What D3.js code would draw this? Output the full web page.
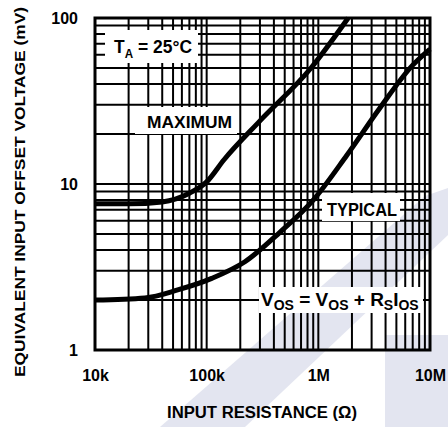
<!DOCTYPE html>
<html>
<head>
<meta charset="utf-8">
<script src="https://cdn.jsdelivr.net/npm/d3@7"></script>
<style>
  body { margin: 0; background: #fff; }
  svg text { font-family: "Liberation Sans Narrow", "Liberation Sans", Arial, sans-serif; font-weight: bold; fill: #000; }
</style>
</head>
<body>
<div id="chart"></div>
<script>
// values
var resistance = [1e4, 2e4, 4e4, 7e4, 1e5, 1.43e5, 3e5, 8.6e5, 1.85e6];
var maximum = [7.6, 7.6, 7.8, 8.8, 10.3, 14, 24, 50, 100];

var resistanceTyp = [1e4, 2.8e4, 5.5e4, 1.11e5, 2.2e5, 4.5e5, 9e5, 1.8e6, 3.56e6, 7e6, 1e7];
var typical = [2.0, 2.06, 2.3, 2.7, 3.4, 5.1, 8.0, 14.9, 28.7, 52, 65];

var xTicks = [1e4, 1e5, 1e6, 1e7];
var xTickLabels = ["10k", "100k", "1M", "10M"];
var yTicks = [1, 10, 100];
var yTickLabels = ["1", "10", "100"];

var width = 448, height = 427;
var margin = {left: 95, top: 18, right: 18, bottom: 77};

var svg = d3.select("#chart").append("svg")
  .attr("width", width)
  .attr("height", height);

// faint watermark in the background
var wm = svg.append("g").attr("fill", "#e3e5f0");
wm.append("path").attr("d", "M160,427 L245,427 L448,235 L448,188 L425,196 Z");
wm.append("path").attr("d", "M385,335 L448,335 L448,427 L385,427 Z");

var x = d3.scaleLog().domain([1e4, 1e7]).range([margin.left, width - margin.right]);
var y = d3.scaleLog().domain([1, 100]).range([height - margin.bottom, margin.top]);

// gridlines at 1..9 in every decade
var xGrid = [], yGrid = [];
for (var d = 1e4; d < 1e7; d *= 10) for (var k = 1; k <= 9; k++) xGrid.push(d * k);
for (var e = 1; e < 100; e *= 10) for (var k2 = 1; k2 <= 9; k2++) yGrid.push(e * k2);

var grid = svg.append("g").attr("stroke", "#000").attr("stroke-width", 2);
grid.selectAll(".vx").data(xGrid).enter().append("line")
  .attr("x1", function (d) { return x(d); }).attr("x2", function (d) { return x(d); })
  .attr("y1", y(100)).attr("y2", y(1));
grid.selectAll(".hy").data(yGrid).enter().append("line")
  .attr("y1", function (d) { return y(d); }).attr("y2", function (d) { return y(d); })
  .attr("x1", x(1e4)).attr("x2", x(1e7));

// white boxes behind the labels cut the grid
var boxes = [
  [105, 30, 93, 33],
  [135, 107, 102, 27],
  [322, 193, 78, 28],
  [259, 287, 164, 26]
];
svg.selectAll(".box").data(boxes).enter().append("rect")
  .attr("x", function (b) { return b[0]; }).attr("y", function (b) { return b[1]; })
  .attr("width", function (b) { return b[2]; }).attr("height", function (b) { return b[3]; })
  .attr("fill", "#fff");

// frame
svg.append("rect")
  .attr("x", x(1e4)).attr("y", y(100))
  .attr("width", x(1e7) - x(1e4)).attr("height", y(1) - y(100))
  .attr("fill", "none").attr("stroke", "#000").attr("stroke-width", 3);

// curves
var line = d3.line().curve(d3.curveMonotoneX);
svg.append("path")
  .datum(resistance.map(function (r, i) { return [x(r), y(maximum[i])]; }))
  .attr("d", line).attr("fill", "none").attr("stroke", "#000").attr("stroke-width", 5);
svg.append("path")
  .datum(resistanceTyp.map(function (r, i) { return [x(r), y(typical[i])]; }))
  .attr("d", line).attr("fill", "none").attr("stroke", "#000").attr("stroke-width", 5);

// axes
var xAxis = svg.append("g")
  .attr("transform", "translate(0," + y(1) + ")")
  .call(d3.axisBottom(x).tickValues(xTicks).tickSize(0).tickPadding(20)
    .tickFormat(function (d, i) { return xTickLabels[i]; }));
xAxis.select(".domain").remove();
xAxis.selectAll("text").style("font-size", "16px").attr("font-family", null);

var yAxis = svg.append("g")
  .attr("transform", "translate(" + x(1e4) + ",0)")
  .call(d3.axisLeft(y).tickValues(yTicks).tickSize(0).tickPadding(17)
    .tickFormat(function (d, i) { return yTickLabels[i]; }));
yAxis.select(".domain").remove();
yAxis.selectAll("text").style("font-size", "16px").attr("font-family", null);

// axis titles
svg.append("text")
  .attr("x", 262).attr("y", 418)
  .attr("text-anchor", "middle")
  .style("font-size", "16px")
  .attr("textLength", 190).attr("lengthAdjust", "spacingAndGlyphs")
  .text("INPUT RESISTANCE (\u03A9)");

svg.append("text")
  .attr("transform", "translate(25,192) rotate(-90)")
  .attr("text-anchor", "middle")
  .style("font-size", "15px")
  .attr("textLength", 370).attr("lengthAdjust", "spacingAndGlyphs")
  .text("EQUIVALENT INPUT OFFSET VOLTAGE (mV)");

// in-plot labels
var ta = svg.append("text").attr("x", 114).attr("y", 53).style("font-size", "18px")
  .attr("textLength", 78).attr("lengthAdjust", "spacingAndGlyphs");
ta.append("tspan").text("T");
ta.append("tspan").attr("dy", 5).style("font-size", "12px").text("A");
ta.append("tspan").attr("dy", -5).text(" = 25\u00B0C");

svg.append("text").attr("x", 147).attr("y", 128).style("font-size", "17px")
  .attr("textLength", 85).attr("lengthAdjust", "spacingAndGlyphs")
  .text("MAXIMUM");

svg.append("text").attr("x", 327).attr("y", 216).style("font-size", "18px")
  .attr("textLength", 70).attr("lengthAdjust", "spacingAndGlyphs")
  .text("TYPICAL");

var vos = svg.append("text").attr("x", 261).attr("y", 306).style("font-size", "19px");
vos.append("tspan").text("V");
vos.append("tspan").attr("dy", 4).style("font-size", "14px").text("OS");
vos.append("tspan").attr("dy", -4).text(" = V");
vos.append("tspan").attr("dy", 4).style("font-size", "14px").text("OS");
vos.append("tspan").attr("dy", -4).text(" + R");
vos.append("tspan").attr("dy", 4).style("font-size", "14px").text("S");
vos.append("tspan").attr("dy", -4).text("I");
vos.append("tspan").attr("dy", 4).style("font-size", "14px").text("OS");
</script>
</body>
</html>
